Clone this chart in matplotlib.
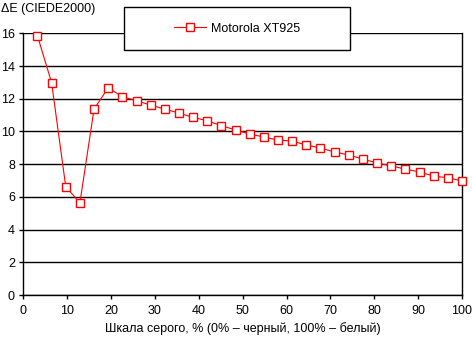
import numpy as np
import matplotlib
matplotlib.use("Agg")
import matplotlib.pyplot as plt
from matplotlib.patches import Rectangle

plt.rcParams['font.family'] = ['Liberation Sans', 'DejaVu Sans']

gray_pct = [100 * i / 31 for i in range(1, 32)]
delta_e = [15.85, 12.98, 6.62, 5.64, 11.37, 12.67, 12.12, 11.88, 11.61, 11.37,
           11.12, 10.86, 10.65, 10.35, 10.09, 9.84, 9.66, 9.47, 9.41, 9.17,
           8.99, 8.74, 8.56, 8.31, 8.07, 7.89, 7.70, 7.52, 7.27, 7.17, 6.97]
series_name = "Motorola XT925"
x_ticks = [0, 10, 20, 30, 40, 50, 60, 70, 80, 90, 100]
y_ticks = [0, 2, 4, 6, 8, 10, 12, 14, 16]

FS = 9

fig = plt.figure(figsize=(4.72, 3.38), dpi=100)
ax = fig.add_axes([23.3/472, 1-295/338, (462-23.3)/472, (295-33.3)/338])

line, = ax.plot(gray_pct, delta_e, color='#ff0000', lw=0.8, marker='s', ms=5.5,
                mfc='white', mec='#ff0000', mew=1.0, label=series_name, clip_on=False, zorder=3)

ax.set_xlim(0, 100)
ax.set_ylim(0, 16)
ax.set_xticks(x_ticks)
ax.set_yticks(y_ticks)
ax.yaxis.grid(True, color='black', lw=1)
ax.set_axisbelow(True)
for s in ['left', 'right', 'bottom']:
    ax.spines[s].set_color('black')
    ax.spines[s].set_linewidth(1)
ax.spines['top'].set_visible(False)
ax.tick_params(axis='both', direction='out', length=3, width=1, labelsize=FS, pad=4, colors='black')
ax.tick_params(axis='y', pad=3)

ax.set_xlabel("Шкала серого, % (0% – черный, 100% – белый)", fontsize=FS, labelpad=4)
fig.text(1/472, 1-9/338, "ΔE (CIEDE2000)", fontsize=FS, va='center', ha='left')

# legend box
bx0, by0, bx1, by1 = 124, 7, 350, 50
rect = Rectangle((bx0/472, 1-by1/338), (bx1-bx0)/472, (by1-by0)/338,
                 transform=fig.transFigure, facecolor='white', edgecolor='black',
                 lw=1, zorder=5)
fig.patches.append(rect)
leg = fig.legend(handles=[line], labels=[series_name], loc='center',
                 bbox_to_anchor=((bx0+bx1)/2/472, 1-(by0+by1)/2/338),
                 bbox_transform=fig.transFigure, frameon=False, fontsize=FS,
                 handlelength=2.6, handletextpad=0.4)
leg.set_zorder(6)

fig.savefig("out.png", dpi=100)
